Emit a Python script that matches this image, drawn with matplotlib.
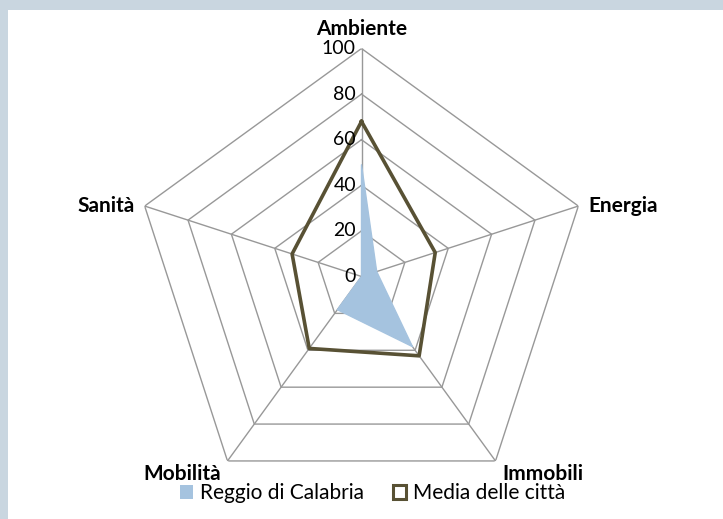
import numpy as np
import matplotlib
matplotlib.use("Agg")
import matplotlib.pyplot as plt
from matplotlib.patches import Patch, Rectangle

categories = ["Ambiente", "Energia", "Immobili", "Mobilità", "Sanità"]
reggio = [49, 7, 38, 18, 0]
media = [68, 34, 43, 39, 32]
rings = [20, 40, 60, 80, 100]
tick_labels = ["0", "20", "40", "60", "80", "100"]

plt.rcParams["font.family"] = ["Lato", "DejaVu Sans"]

fig = plt.figure(figsize=(7.23, 5.19), dpi=100)
fig.patch.set_facecolor("white")

# bordo grigio-azzurro a sinistra e in alto
border = "#c9d6e0"
fig.patches.append(Rectangle((0, 0), 8 / 723, 1, transform=fig.transFigure,
                             facecolor=border, edgecolor="none", zorder=0))
fig.patches.append(Rectangle((0, 1 - 10 / 519), 1, 10 / 519, transform=fig.transFigure,
                             facecolor=border, edgecolor="none", zorder=0))

ax = fig.add_axes([133.5 / 723, 14.5 / 519, 456 / 723, 456 / 519], projection="polar")
ax.set_theta_offset(np.pi / 2)
ax.set_theta_direction(-1)
ax.set_ylim(0, 100)
ax.grid(False)
ax.spines["polar"].set_visible(False)
ax.set_xticks([])
ax.set_yticks([])
ax.patch.set_alpha(0)

n = len(categories)
theta = np.linspace(0, 2 * np.pi, n, endpoint=False)
theta_c = np.append(theta, theta[0])

grid_col = "#989898"
for r in rings:
    ax.plot(theta_c, [r] * (n + 1), color=grid_col, lw=1.0, zorder=1)
for t in theta:
    ax.plot([t, t], [0, 100], color=grid_col, lw=1.0, zorder=1)

ax.fill(theta_c, reggio + reggio[:1], facecolor="#a5c3df", edgecolor="#a5c3df",
        lw=1.0, joinstyle="round", zorder=2)
ax.plot(theta_c, media + media[:1], color="#585134", lw=2.6, zorder=3)

# etichette dei valori lungo l'asse Ambiente
for r, lab in zip([0] + rings, tick_labels):
    ax.annotate(lab, xy=(0, r), xytext=(-4, 0), textcoords="offset points",
                ha="right", va="center", fontsize=14, color="#000000", zorder=4)

# etichette delle categorie
offsets = [((0, 7), "center", "bottom"),
           ((7, 0), "left", "center"),
           ((5, -2), "left", "top"),
           ((-5, -2), "right", "top"),
           ((-7, 0), "right", "center")]
for t, lab, (off, ha, va) in zip(theta, categories, offsets):
    ax.annotate(lab, xy=(t, 100), xytext=off, textcoords="offset points",
                ha=ha, va=va, fontsize=15, fontweight="bold", annotation_clip=False)

handles = [Patch(facecolor="#a5c3df", edgecolor="none"),
           Patch(facecolor="white", edgecolor="#585134", lw=2.2)]
fig.legend(handles, ["Reggio di Calabria", "Media delle città"], loc="center",
           bbox_to_anchor=(0.515, 0.05), ncol=2, frameon=False, fontsize=15,
           handlelength=0.65, handleheight=0.65, handletextpad=0.3, columnspacing=1.4)

fig.savefig("out.png", dpi=100)
